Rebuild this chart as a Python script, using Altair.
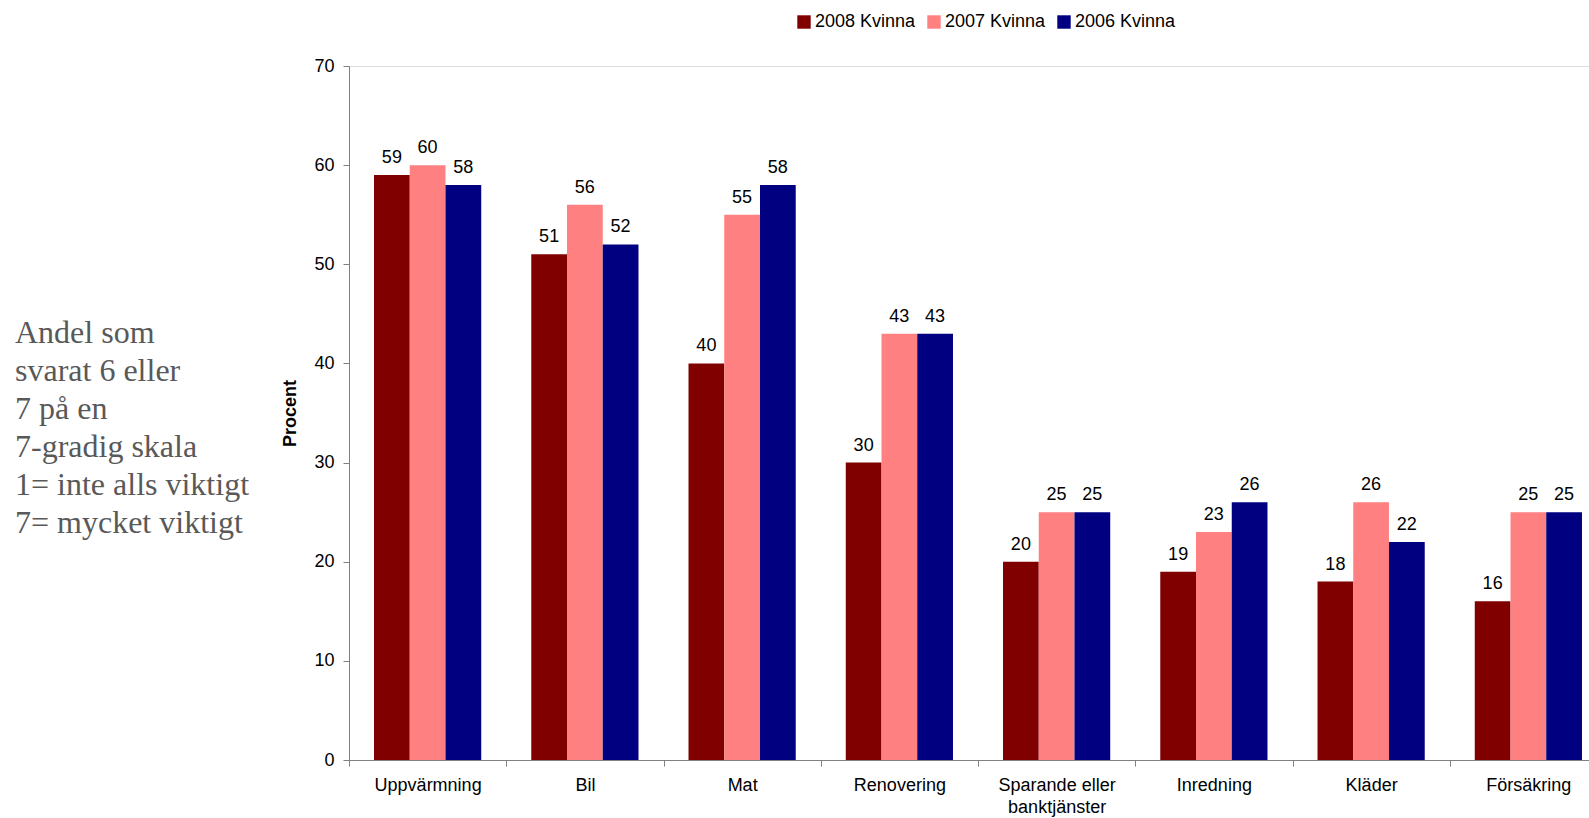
import altair as alt
import pandas as pd

categories = ["Uppvärmning", "Bil", "Mat", "Renovering", "Sparande eller banktjänster",
              "Inredning", "Kläder", "Försäkring"]
series = ["2008 Kvinna", "2007 Kvinna", "2006 Kvinna"]
v2008 = [59, 51, 40, 30, 20, 19, 18, 16]
v2007 = [60, 56, 55, 43, 25, 23, 26, 25]
v2006 = [58, 52, 58, 43, 25, 26, 22, 25]
colors = ["#800000", "#FF8080", "#000080"]
note_lines = ["Andel som", "svarat 6 eller", "7 på en", "7-gradig skala",
              "1= inte alls viktigt", "7= mycket viktigt"]

rows = []
for s, vals in zip(series, [v2008, v2007, v2006]):
    for c, v in zip(categories, vals):
        rows.append({"Kategori": c, "Serie": s, "Procent": v})
df = pd.DataFrame(rows)

W = 1240
FULL = 1258
H = 694
FS = 18

x = alt.X("Kategori:N", sort=categories, title=None,
          scale=alt.Scale(range=[0, FULL], paddingInner=0, paddingOuter=0),
          axis=alt.Axis(tickBand="extent", labelAngle=0, labelFontSize=FS,
                        labelFont="Liberation Sans", labelColor="#000000",
                        labelPadding=10, tickSize=6, tickColor="#808080",
                        domainColor="#808080", labelLineHeight=22,
                        labelExpr="datum.value == 'Sparande eller banktjänster' ? ['Sparande eller', 'banktjänster'] : datum.value"))
xo = alt.XOffset("Serie:N", sort=series, scale=alt.Scale(paddingInner=0, paddingOuter=0.7))
y = alt.Y("Procent:Q", scale=alt.Scale(domain=[0, 70], nice=False),
          axis=alt.Axis(values=list(range(0, 71, 10)), grid=False, title="Procent",
                        titleFont="Liberation Sans", titleFontSize=FS, titleFontWeight="bold",
                        titleColor="#000000", titlePadding=14,
                        labelFont="Liberation Sans", labelFontSize=FS, labelColor="#000000",
                        labelPadding=9, tickSize=6, tickColor="#808080", domainColor="#808080"))

bars = alt.Chart(df).mark_bar().encode(
    x=x, xOffset=xo, y=y,
    color=alt.Color("Serie:N", sort=series,
                    scale=alt.Scale(domain=series, range=colors),
                    legend=alt.Legend(title=None, orient="none", direction="horizontal",
                                      legendX=446, legendY=-53, symbolType="square",
                                      symbolSize=180, symbolStrokeWidth=0, symbolOpacity=1,
                                      labelFont="Liberation Sans", labelFontSize=FS,
                                      labelColor="#000000", labelOffset=2, columnPadding=9)),
)

labels = alt.Chart(df).mark_text(baseline="bottom", dy=-8, fontSize=FS,
                                 font="Liberation Sans", color="#000000").encode(
    x=x, xOffset=xo, y=y, text="Procent:Q"
)

note_df = pd.DataFrame({"t": ["\n".join(note_lines)]})
note = alt.Chart(note_df).mark_text(align="left", baseline="alphabetic", fontSize=32,
                                    font="Liberation Serif", color="#595959",
                                    lineBreak="\n", lineHeight=38).encode(
    x=alt.value(15 - 349),
    y=alt.value(277),
    text="t:N",
)

chart = alt.layer(bars, labels, note).properties(
    width=W, height=H,
    padding={"left": 349, "top": 66, "right": 0, "bottom": 58},
    autosize=alt.AutoSizeParams(type="none"),
).configure_view(stroke=None).configure(background="white")

chart.save("out.html", embed_options={"renderer": "svg", "actions": False})
